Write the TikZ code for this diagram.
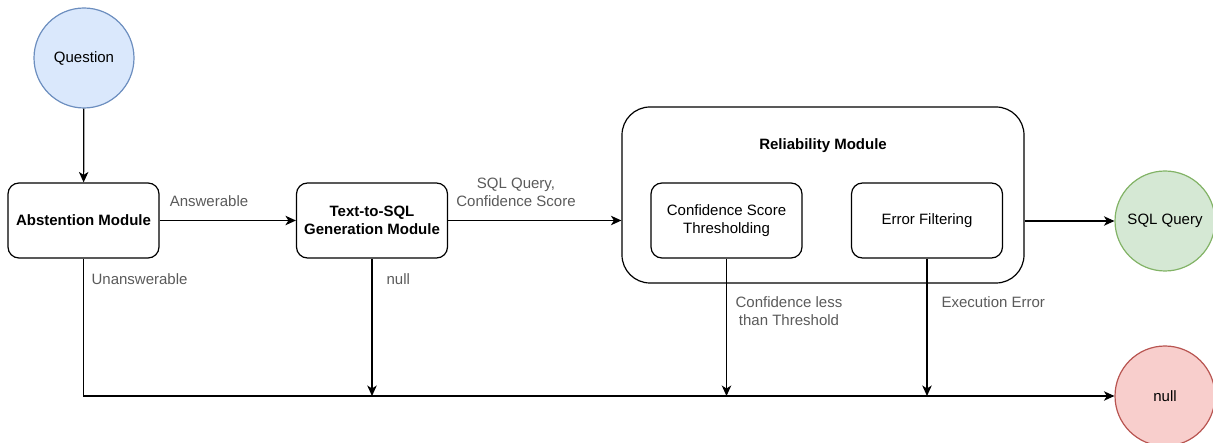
\documentclass[tikz,border=0pt]{standalone}
\usepackage{fontspec}
\setmainfont{Liberation Sans}
\usetikzlibrary{arrows.meta}
\definecolor{qfill}{HTML}{DAE8FC}
\definecolor{qline}{HTML}{6C8EBF}
\definecolor{okfill}{HTML}{D5E8D4}
\definecolor{okline}{HTML}{82B366}
\definecolor{nofill}{HTML}{F8CECC}
\definecolor{noline}{HTML}{B85450}
\definecolor{lbl}{HTML}{5A5A5A}
\begin{document}
\begin{tikzpicture}[x=1pt,y=-1pt,
  font=\fontsize{15}{18}\selectfont,
  line width=1.2pt,
  terminal/.style={circle,draw,minimum size=100pt,inner sep=0pt},
  module/.style={draw,rounded corners=11pt,minimum width=151pt,minimum height=75pt,align=center,inner sep=2pt},
  arr/.style={-{Stealth[length=10.5pt,width=9.5pt,inset=3pt]}},
  edgelabel/.style={text=lbl,inner sep=0pt,align=center}]
\useasboundingbox (0,0) rectangle (1213,443);

% terminals
\node[terminal,fill=qfill,draw=qline] (q) at (84,58) {Question};
\node[terminal,fill=okfill,draw=okline] (sqlq) at (1165,221) {SQL Query};
\node[terminal,fill=nofill,draw=noline] (null) at (1165,396) {null};

% processing modules
\node[module] (abs) at (83.5,220.5) {\bfseries Abstention Module};
\node[module] (t2s) at (372,220.5) {\bfseries Text-to-SQL\\\bfseries Generation Module};
\node[draw,rounded corners=28pt,minimum width=402pt,minimum height=176pt] (rel) at (823,195) {};
\node (reltitle) at (823,146) {\bfseries Reliability Module};
\node[module] (conf) at (726.5,220.5) {Confidence Score\\Thresholding};
\node[module] (err) at (927,220.5) {Error Filtering};

% main flow
\draw[arr] (q) -- (abs);
\draw[arr] (abs) -- (t2s);
\draw[arr] (t2s.east) -- (t2s.east -| rel.west);
\draw[arr] (rel.east |- sqlq) -- (sqlq);

% rejection paths
\draw[arr] (abs.south) |- (null);
\draw[arr] (t2s.south) -- (t2s.south |- null);
\draw[arr] (conf.south) -- (conf.south |- null);
\draw[arr] (err.south) -- (err.south |- null);

% edge labels
\node[edgelabel] (lans) at (209,201) {Answerable};
\node[edgelabel] (lsql) at (516,192) {SQL Query,\\Confidence Score};
\node[edgelabel,anchor=west] (lun) at (91,279) {Unanswerable};
\node[edgelabel,anchor=west] (lnull) at (386,279) {null};
\node[edgelabel] (lconf) at (789,311) {Confidence less\\than Threshold};
\node[edgelabel,anchor=west] (lexec) at (941,302) {Execution Error};
\end{tikzpicture}
\end{document}
